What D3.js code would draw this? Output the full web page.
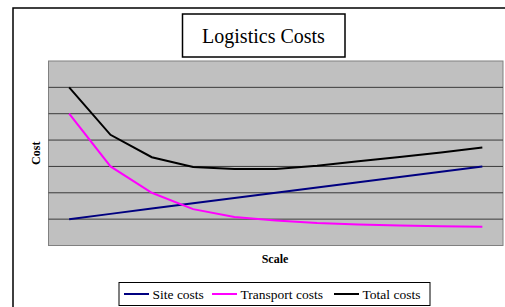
<!DOCTYPE html>
<html>
<head>
<meta charset="utf-8">
<script src="https://cdn.jsdelivr.net/npm/d3@7"></script>
<style>
  body { margin: 0; background: #fff; }
  text { font-family: "Liberation Serif", "Times New Roman", serif; }
</style>
</head>
<body>
<script>
// data (y in gridline units, 0..7)
var scale = ["1", "2", "3", "4", "5", "6", "7", "8", "9", "10", "11"];
var siteCosts = [1.0, 1.2, 1.4, 1.6, 1.8, 2.0, 2.2, 2.4, 2.6, 2.8, 3.0];
var transportCosts = [5.0, 3.0, 2.0, 1.38, 1.08, 0.95, 0.85, 0.8, 0.76, 0.73, 0.71];
var totalCosts = [6.0, 4.2, 3.35, 2.98, 2.9, 2.9, 3.03, 3.2, 3.36, 3.53, 3.72];
var yTicks = [0, 1, 2, 3, 4, 5, 6, 7];

var series = [
  {name: "Site costs", values: siteCosts, color: "#000080"},
  {name: "Transport costs", values: transportCosts, color: "#ff00ff"},
  {name: "Total costs", values: totalCosts, color: "#000000"}
];

var W = 505, H = 307;
var plot = {left: 48.5, top: 61, width: 454.5, height: 184.5};

var svg = d3.select("body").append("svg")
  .attr("width", W)
  .attr("height", H);

// outer chart frame
svg.append("rect")
  .attr("x", 13).attr("y", 8)
  .attr("width", 520).attr("height", 320)
  .attr("fill", "#fff")
  .attr("stroke", "#000")
  .attr("stroke-width", 1.5);

// title box
svg.append("rect")
  .attr("x", 182.5).attr("y", 14)
  .attr("width", 162.5).attr("height", 43)
  .attr("fill", "#fff")
  .attr("stroke", "#000")
  .attr("stroke-width", 1.5);

svg.append("text")
  .attr("x", 263.5).attr("y", 42.5)
  .attr("text-anchor", "middle")
  .style("font-size", "20px")
  .text("Logistics Costs");

var x = d3.scalePoint()
  .domain(scale)
  .range([0, plot.width])
  .padding(0.5);

var y = d3.scaleLinear()
  .domain([0, 7])
  .range([plot.height, 0]);

var g = svg.append("g")
  .attr("transform", "translate(" + plot.left + "," + plot.top + ")");

g.append("rect")
  .attr("width", plot.width)
  .attr("height", plot.height)
  .attr("fill", "#c0c0c0")
  .attr("stroke", "#808080")
  .attr("stroke-width", 1);

// gridlines
g.selectAll("line.grid")
  .data(yTicks.slice(1, -1))
  .enter()
  .append("line")
  .attr("class", "grid")
  .attr("x1", 0).attr("x2", plot.width)
  .attr("y1", function(d) { return y(d); })
  .attr("y2", function(d) { return y(d); })
  .attr("stroke", "#3a3a3a")
  .attr("stroke-width", 1);

var line = d3.line()
  .x(function(d, i) { return x(scale[i]); })
  .y(function(d) { return y(d); });

g.selectAll("path.series")
  .data(series)
  .enter()
  .append("path")
  .attr("class", "series")
  .attr("fill", "none")
  .attr("stroke", function(d) { return d.color; })
  .attr("stroke-width", 2)
  .attr("d", function(d) { return line(d.values); });

// axis titles
svg.append("text")
  .attr("transform", "translate(40," + (plot.top + plot.height / 2) + ") rotate(-90)")
  .attr("text-anchor", "middle")
  .style("font-size", "12px")
  .style("font-weight", "bold")
  .text("Cost");

svg.append("text")
  .attr("x", 275).attr("y", 263)
  .attr("text-anchor", "middle")
  .style("font-size", "12px")
  .style("font-weight", "bold")
  .text("Scale");

// legend
var legend = svg.append("g");
legend.append("rect")
  .attr("x", 119).attr("y", 282.5)
  .attr("width", 311).attr("height", 23)
  .attr("fill", "#fff")
  .attr("stroke", "#000")
  .attr("stroke-width", 1);

var legendX = [124, 212, 334];
var items = legend.selectAll("g.item")
  .data(series)
  .enter()
  .append("g")
  .attr("class", "item")
  .attr("transform", function(d, i) { return "translate(" + legendX[i] + ",294)"; });

items.append("line")
  .attr("x1", 0).attr("x2", 25)
  .attr("stroke", function(d) { return d.color; })
  .attr("stroke-width", 2);

items.append("text")
  .attr("x", 28.5).attr("y", 5)
  .style("font-size", "13.5px")
  .text(function(d) { return d.name; });
</script>
</body>
</html>
